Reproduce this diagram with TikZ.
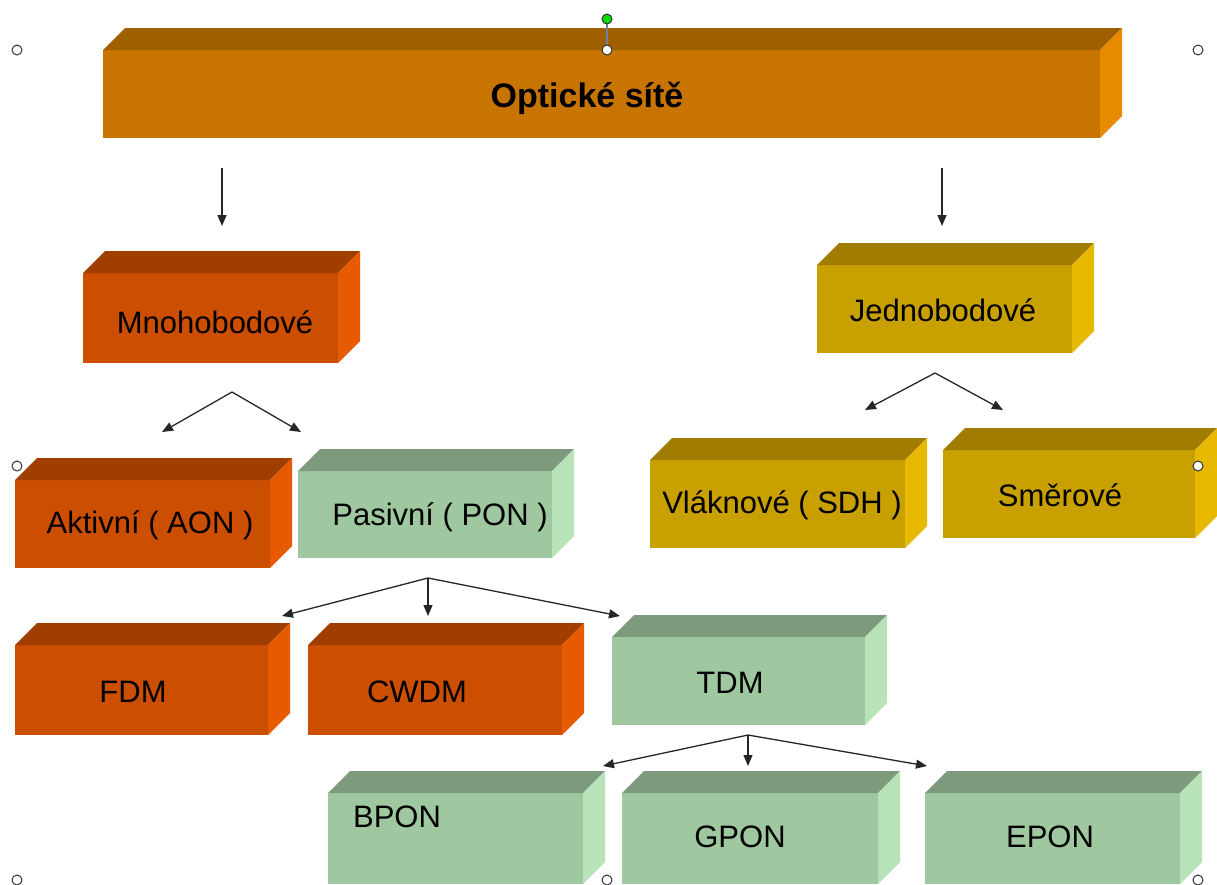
\documentclass[tikz,border=0pt]{standalone}
\usepackage{fontspec}
\setmainfont{Liberation Sans}
\usetikzlibrary{arrows.meta}
\definecolor{orF}{RGB}{200,116,0}
\definecolor{orT}{RGB}{160,96,0}
\definecolor{orS}{RGB}{232,138,0}
\definecolor{rdF}{RGB}{204,78,0}
\definecolor{rdT}{RGB}{160,62,0}
\definecolor{rdS}{RGB}{232,90,0}
\definecolor{gdF}{RGB}{200,160,0}
\definecolor{gdT}{RGB}{160,124,0}
\definecolor{gdS}{RGB}{230,184,0}
\definecolor{grF}{RGB}{160,200,160}
\definecolor{grT}{RGB}{125,154,125}
\definecolor{grS}{RGB}{184,226,184}
\definecolor{hdlG}{RGB}{0,220,0}
\definecolor{hdlL}{RGB}{110,130,160}
\newcommand\cuboid[6]{%
  \node[anchor=north west, inner sep=0pt, outer sep=0pt,
        minimum width={(#4-#2)*1pt}, minimum height={(#5-#3)*1pt}, fill=#6F] (#1) at (#2,#3) {};
  \fill[#6T] (#1.north west) -- ++(22,-22) -- ([shift={(22,-22)}]#1.north east) -- (#1.north east) -- cycle;
  \fill[#6S] (#1.north east) -- ++(22,-22) -- ([shift={(22,-22)}]#1.south east) -- (#1.south east) -- cycle;
}
\tikzset{
  lbl/.style={font=\fontsize{31}{34}\selectfont, inner sep=0pt},
  ttl/.style={font=\fontsize{34}{36}\selectfont\bfseries, inner sep=0pt},
  arr/.style={-{Triangle[length=11pt,width=9pt]}, line width=1.3pt, black!85},
  hdl/.style={circle, draw=black!80, fill=white, line width=1pt, minimum size=10pt, inner sep=0pt},
}
\begin{document}
\begin{tikzpicture}[x=1pt,y=-1pt]
\useasboundingbox[fill=white] (0,0) rectangle (1217,884);
% boxes
\cuboid{top}{103}{50}{1100}{138}{or}
\node[ttl] (topT) at (587,98) {Optické sítě};
\cuboid{mno}{83}{273}{338}{363}{rd}
\node[lbl] (mnoT) at (215,322) {Mnohobodové};
\cuboid{jed}{817}{265}{1072}{353}{gd}
\node[lbl] (jedT) at (943,310) {Jednobodové};
\cuboid{akt}{15}{480}{270}{568}{rd}
\node[lbl] (aktT) at (150,525) {Aktivní ( AON )};
\cuboid{pas}{298}{471}{552}{558}{gr}
\node[lbl] (pasT) at (440,517) {Pasivní ( PON )};
\cuboid{vla}{650}{460}{905}{548}{gd}
\node[lbl] (vlaT) at (782,505) {Vláknové ( SDH )};
\cuboid{sme}{943}{450}{1195}{538}{gd}
\node[lbl] (smeT) at (1060,495) {Směrové};
\cuboid{fdm}{15}{645}{268}{735}{rd}
\node[lbl] (fdmT) at (133,692) {FDM};
\cuboid{cwd}{308}{645}{562}{735}{rd}
\node[lbl] (cwdT) at (417,692) {CWDM};
\cuboid{tdm}{612}{637}{865}{725}{gr}
\node[lbl] (tdmT) at (730,683) {TDM};
\cuboid{bpo}{328}{793}{583}{884}{gr}
\node[lbl] (bpoT) at (397,817) {BPON};
\cuboid{gpo}{622}{793}{878}{884}{gr}
\node[lbl] (gpoT) at (740,837) {GPON};
\cuboid{epo}{925}{793}{1180}{884}{gr}
\node[lbl] (epoT) at (1050,837) {EPON};
% connector points
\coordinate (a1s) at (222,168); \coordinate (a1e) at (222,226);
\coordinate (a2s) at (942,168); \coordinate (a2e) at (942,226);
\coordinate (m0) at (232,392); \coordinate (m1) at (162,432); \coordinate (m2) at (301,432);
\coordinate (j0) at (935,373); \coordinate (j1) at (865,410); \coordinate (j2) at (1003,410);
\coordinate (p0) at (428,578); \coordinate (p1) at (282,616); \coordinate (p2) at (428,616); \coordinate (p3) at (620,616);
\coordinate (t0) at (748,735); \coordinate (t1) at (603,766); \coordinate (t2) at (748,766); \coordinate (t3) at (927,766);
\draw[arr] (a1s) -- (a1e);
\draw[arr] (a2s) -- (a2e);
\draw[arr] (m0) -- (m1); \draw[arr] (m0) -- (m2);
\draw[arr] (j0) -- (j1); \draw[arr] (j0) -- (j2);
\draw[arr] (p0) -- (p1); \draw[arr] (p0) -- (p2); \draw[arr] (p0) -- (p3);
\draw[arr] (t0) -- (t1); \draw[arr] (t0) -- (t2); \draw[arr] (t0) -- (t3);
% selection handles
\draw[hdlL, line width=1.5pt] (607,19) -- (607,50);
\node[hdl, fill=hdlG] (h0) at (607,19) {};
\node[hdl] (h1) at (17,50) {};
\node[hdl] (h2) at (607,50) {};
\node[hdl] (h3) at (1198,50) {};
\node[hdl] (h4) at (17,466) {};
\node[hdl] (h5) at (1198,466) {};
\node[hdl] (h6) at (17,880) {};
\node[hdl] (h7) at (607,880) {};
\node[hdl] (h8) at (1198,880) {};
\end{tikzpicture}
\end{document}
